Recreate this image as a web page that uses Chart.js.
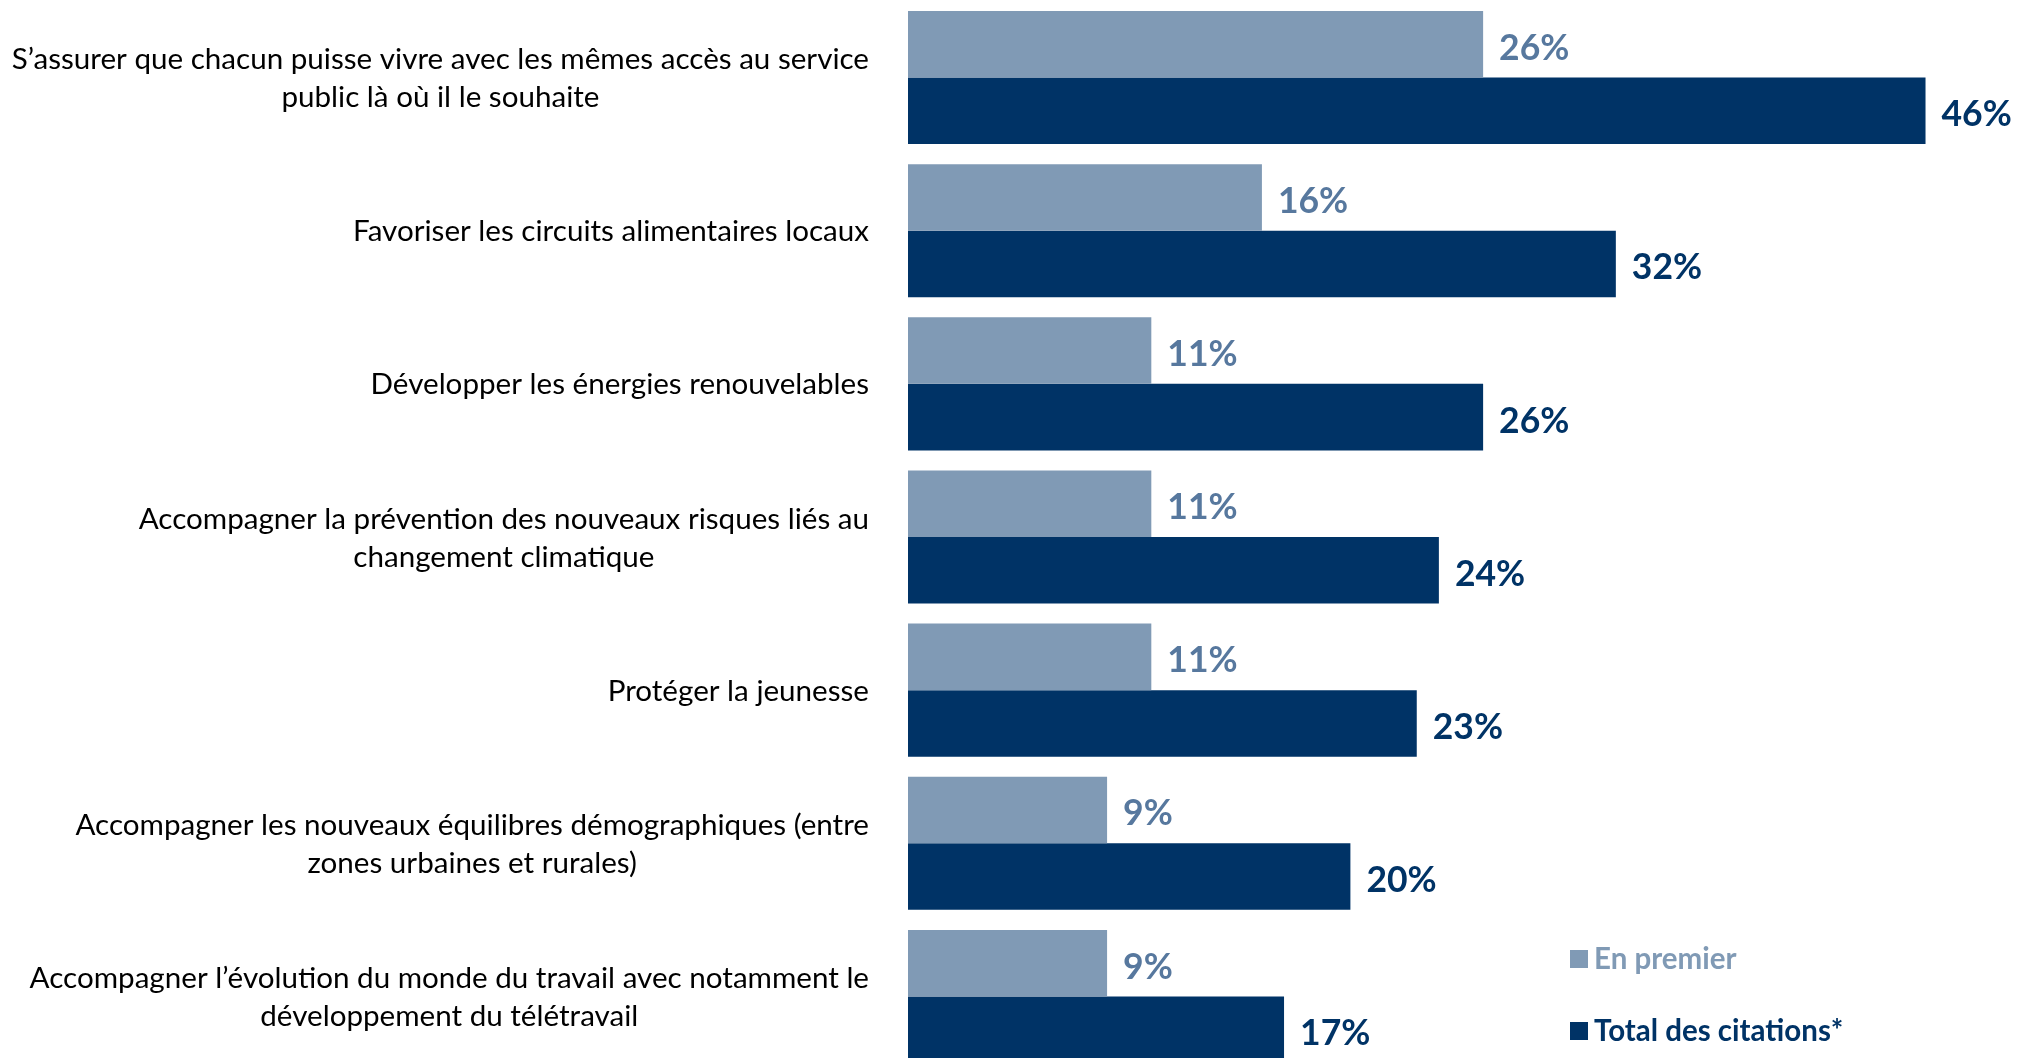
<!DOCTYPE html>
<html>
<head>
<meta charset="utf-8">
<script src="https://cdn.jsdelivr.net/npm/chart.js@4.4.1/dist/chart.umd.min.js"></script>
<style>
  html, body { margin: 0; padding: 0; background: #ffffff; overflow: hidden; }
  #wrap { width: 2020px; height: 1058px; overflow: hidden; position: relative; }
  #c { position: absolute; left: 0; top: 0; }
</style>
</head>
<body>
<div id="wrap"><canvas id="c" width="2020" height="1074"></canvas></div>
<script>
const categories = [
  ["S\u2019assurer que chacun puisse vivre avec les mêmes accès au service", "public là où il le souhaite"],
  ["Favoriser les circuits alimentaires locaux"],
  ["Développer les énergies renouvelables"],
  ["Accompagner la prévention des nouveaux risques liés au", "changement climatique"],
  ["Protéger la jeunesse"],
  ["Accompagner les nouveaux équilibres démographiques (entre", "zones urbaines et rurales)"],
  ["Accompagner l\u2019évolution du monde du travail avec notamment le", "développement du télétravail"]
];
const enPremier = [26, 16, 11, 11, 11, 9, 9];
const totalCitations = [46, 32, 26, 24, 23, 20, 17];
const seriesNames = ["En premier", "Total des citations*"];

const LIGHT = '#809ab5';
const LIGHT_TEXT = '#57789e';
const DARK = '#003366';
const FONT = 'Lato, "Open Sans", sans-serif';

const categoryLabelsPlugin = {
  id: 'categoryLabels',
  afterDraw(chart) {
    const ctx = chart.ctx;
    const yScale = chart.scales.y;
    const right = chart.chartArea.left - 39;
    const lineH = 38;
    ctx.save();
    ctx.font = '29.6px ' + FONT;
    ctx.fillStyle = '#000000';
    ctx.textBaseline = 'middle';
    ctx.textAlign = 'center';
    categories.forEach((lines, i) => {
      const yc = yScale.getPixelForValue(i) + 1;
      const maxW = Math.max(...lines.map(l => ctx.measureText(l).width));
      const cx = right - maxW / 2;
      lines.forEach((l, j) => {
        ctx.fillText(l, cx, yc + (j - (lines.length - 1) / 2) * lineH);
      });
    });
    ctx.restore();
  }
};

const valueLabelsPlugin = {
  id: 'valueLabels',
  afterDatasetsDraw(chart) {
    const ctx = chart.ctx;
    ctx.save();
    ctx.font = 'bold 35.5px ' + FONT;
    ctx.textBaseline = 'middle';
    ctx.textAlign = 'left';
    chart.data.datasets.forEach((ds, di) => {
      const meta = chart.getDatasetMeta(di);
      ctx.fillStyle = ds.labelColor;
      meta.data.forEach((bar, i) => {
        ctx.fillText(ds.data[i] + '%', bar.x + 16, bar.y + 4);
      });
    });
    ctx.restore();
  }
};

const legendPlugin = {
  id: 'customLegend',
  afterDraw(chart) {
    const ctx = chart.ctx;
    const x0 = 1570, ys = [959, 1031], sq = 18;
    ctx.save();
    ctx.font = 'bold 29.5px ' + FONT;
    ctx.textBaseline = 'middle';
    ctx.textAlign = 'left';
    chart.data.datasets.forEach((ds, di) => {
      const y = ys[di];
      ctx.fillStyle = ds.backgroundColor;
      ctx.fillRect(x0, y - sq / 2, sq, sq);
      ctx.fillStyle = ds.legendColor;
      ctx.fillText(ds.label, x0 + 24, y);
    });
    ctx.restore();
  }
};

new Chart(document.getElementById('c'), {
  type: 'bar',
  data: {
    labels: categories.map(l => l.join(' ')),
    datasets: [
      {
        label: seriesNames[0],
        data: enPremier,
        backgroundColor: LIGHT,
        labelColor: LIGHT_TEXT,
        legendColor: LIGHT,
        borderWidth: 0,
        barPercentage: 1,
        categoryPercentage: 0.869
      },
      {
        label: seriesNames[1],
        data: totalCitations,
        backgroundColor: DARK,
        labelColor: DARK,
        legendColor: DARK,
        borderWidth: 0,
        barPercentage: 1,
        categoryPercentage: 0.869
      }
    ]
  },
  options: {
    indexAxis: 'y',
    responsive: false,
    animation: false,
    devicePixelRatio: 1,
    layout: { padding: { left: 908, right: 6, top: 1, bottom: 1 } },
    plugins: {
      legend: { display: false },
      tooltip: { enabled: false }
    },
    scales: {
      x: { min: 0, max: 50, display: false },
      y: { display: false }
    }
  },
  plugins: [categoryLabelsPlugin, valueLabelsPlugin, legendPlugin]
});
</script>
</body>
</html>
